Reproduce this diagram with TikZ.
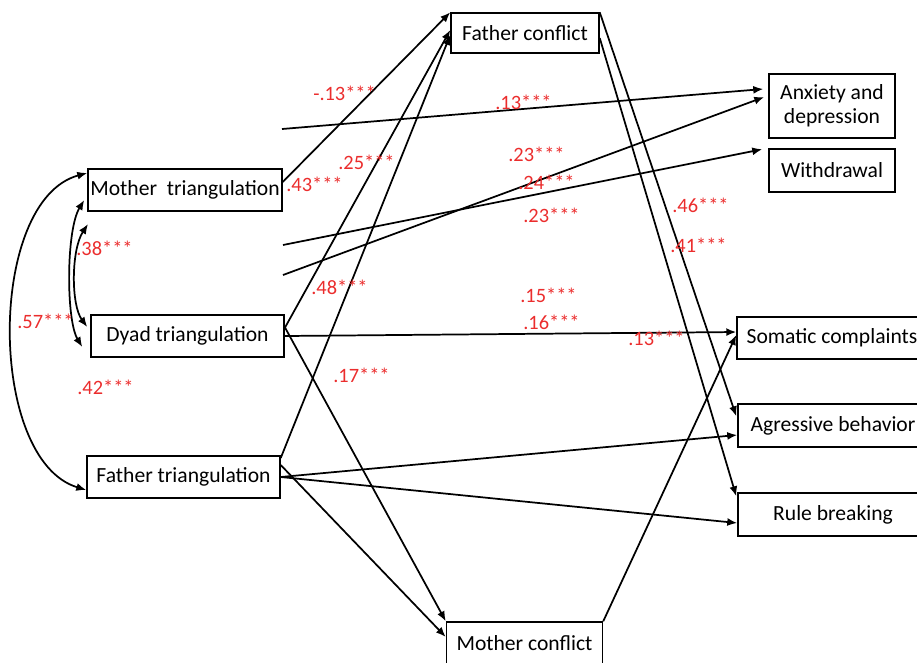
\documentclass[tikz,border=0pt]{standalone}
\usepackage{fontspec}
\setmainfont{Carlito}
\usetikzlibrary{arrows.meta,calc}
\definecolor{coefred}{RGB}{235,45,45}
\begin{document}
\begin{tikzpicture}[x=0.75pt,y=-0.75pt,
		box/.style={draw,line width=1.1pt,inner sep=0pt,align=center,font=\fontsize{16.2}{18}\selectfont},
		coef/.style={text=coefred,anchor=west,inner sep=0pt,font=\fontsize{15.3}{16}\selectfont},
		link/.style={line width=1.3pt,-{Latex[length=7.5pt,width=6pt]}},
		corr/.style={line width=1.3pt,{Latex[length=7.5pt,width=6pt]}-{Latex[length=7.5pt,width=6pt]}}]
		\useasboundingbox (0,0) rectangle (917,662);
		% predictors
		\node[box,minimum width=145.5pt,minimum height=31.5pt] (mtri) at (185,190) {Mother\ \ triangulation};
		\node[box,minimum width=144.75pt,minimum height=31.5pt] (dtri) at (187.5,336) {Dyad triangulation};
		\node[box,minimum width=144.75pt,minimum height=31.5pt] (ftri) at (183.5,477) {Father triangulation};
		% mediators
		\node[box,minimum width=111pt,minimum height=30pt] (fcon) at (525,33) {Father conflict};
		\node[box,minimum width=117pt,minimum height=31.5pt] (mcon) at (524.5,643) {Mother conflict};
		% outcomes
		\node[box,minimum width=94.5pt,minimum height=48pt] (anxdep) at (832,106) {Anxiety and\\depression};
		\node[box,minimum width=94.5pt,minimum height=32.25pt] (withdr) at (832,170.5) {Withdrawal};
		\node[box,minimum width=142.5pt,minimum height=31.5pt] (somat) at (832,338) {Somatic complaints};
		\node[box,minimum width=142.5pt,minimum height=32.25pt] (aggr) at (833,425.5) {Agressive behavior};
		\node[box,minimum width=142.5pt,minimum height=32.25pt] (rulebr) at (833,514.5) {Rule breaking};
		% loose ends
		\coordinate (free1) at (282,129);
		\coordinate (free2) at (283,245);
		\coordinate (free3) at (283,275);
		\coordinate (free4) at (88,224);
		% paths to father conflict
		\draw[link] ($(mtri.east)+(0,-8)$) -- (fcon.north west);
		\draw[link] ($(dtri.east)+(0,-8)$) -- ($(fcon.west)+(0,-3)$);
		\draw[link] ($(ftri.east)+(0,-19)$) -- ($(fcon.west)+(0,2)$);
		% paths to mother conflict
		\draw[link] ($(dtri.east)+(0,-9)$) -- (mcon.north west);
		\draw[link] ($(ftri.east)+(0,-12)$) -- ($(mcon.west)+(0,-6)$);
		% paths to outcomes
		\draw[link] (free1) -- ($(anxdep.west)+(-5,-17)$);
		\draw[link] (free3) -- ($(anxdep.west)+(-4,-9)$);
		\draw[link] (free2) -- ($(withdr.north west)+(-6,1)$);
		\draw[link] (dtri.east) -- ($(somat.west)+(0,-6)$);
		\draw[link] (mcon.north east) -- ($(somat.west)+(0,-3)$);
		\draw[link] (ftri.east) -- ($(aggr.west)+(0,9.5)$);
		\draw[link] (ftri.east) -- ($(rulebr.west)+(0,8.5)$);
		\draw[link] (fcon.north east) -- ($(aggr.north west)+(-1,13)$);
		\draw[link] ($(fcon.east)+(0,5)$) -- ($(rulebr.north west)+(-1,4)$);
		% correlations
		\draw[corr] ($(mtri.west)+(0,-17)$) .. controls (-13,200) and (-13,460) .. ($(ftri.west)+(0,13)$);
		\draw[corr] ($(mtri.west)+(-3,10)$) .. controls (66,230) and (66,320) .. ($(dtri.west)+(-8,11)$);
		\draw[corr] (free4) .. controls (71,250) and (71,305) .. ($(dtri.west)+(-3,-9)$);
		% coefficients
		\node[coef] (c1) at (313,93) {-.13***};
		\node[coef] (c2) at (495,102) {.13***};
		\node[coef] (c3) at (338,162) {.25***};
		\node[coef] (c4) at (286,184) {.43***};
		\node[coef] (c5) at (508,154) {.23***};
		\node[coef] (c6) at (518,182) {.24***};
		\node[coef] (c7) at (523,215) {.23***};
		\node[coef] (c8) at (672,205) {.46***};
		\node[coef] (c9) at (670,245) {.41***};
		\node[coef] (c10) at (76,248) {.38***};
		\node[coef] (c11) at (311,287) {.48***};
		\node[coef] (c12) at (520,295) {.15***};
		\node[coef] (c13) at (523,322) {.16***};
		\node[coef] (c14) at (17,321) {.57***};
		\node[coef] (c15) at (628,338) {.13***};
		\node[coef] (c16) at (333,375) {.17***};
		\node[coef] (c17) at (77,387) {.42***};
	\end{tikzpicture}
\end{document}
